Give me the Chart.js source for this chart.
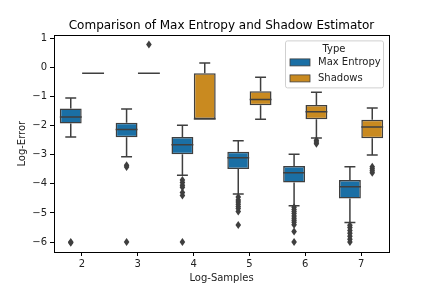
<!DOCTYPE html>
<html>
<head>
<meta charset="utf-8">
<script src="https://cdn.jsdelivr.net/npm/chart.js@4"></script>
<style>
  html, body { margin: 0; padding: 0; background: #fff; }
  #wrap { width: 432px; height: 288px; }
</style>
</head>
<body>
<div id="wrap"><canvas id="myChart" width="432" height="288"></canvas></div>
<script>
// Log-Samples categories
var categories = ['2', '3', '4', '5', '6', '7'];
var seriesNames = ['Max Entropy', 'Shadows'];
var yTicks = [1, 0, -1, -2, -3, -4, -5, -6];

// Max Entropy box stats
var meLow = [-2.39, -3.07, -3.70, -4.35, -4.75, -5.33];
var meQ1 = [-1.93, -2.40, -2.98, -3.49, -3.95, -4.50];
var meMed = [-1.70, -2.13, -2.66, -3.10, -3.62, -4.10];
var meQ3 = [-1.41, -1.90, -2.39, -2.90, -3.39, -3.87];
var meHigh = [-1.05, -1.43, -1.99, -2.52, -2.98, -3.41];
var meOut = [
  [-6.0, -6.02],
  [-3.36, -3.42, -6.0],
  [-3.87, -3.95, -4.05, -4.12, -4.3, -4.4, -6.0],
  [-4.45, -4.55, -4.62, -4.7, -4.78, -4.85, -4.95, -5.41],
  [-4.8, -4.88, -4.95, -5.02, -5.1, -5.18, -5.25, -5.32, -5.4, -5.64, -6.0],
  [-5.42, -5.5, -5.6, -5.7, -5.8, -5.9, -6.0]
];

// Shadows box stats
var shLow = [-0.2, -0.2, -1.77, -1.78, -2.42, -3.01];
var shQ1 = [-0.2, -0.2, -1.77, -1.30, -1.78, -2.43];
var shMed = [-0.2, -0.2, -1.77, -1.10, -1.52, -2.05];
var shQ3 = [-0.2, -0.2, -0.2, -0.82, -1.29, -1.80];
var shHigh = [-0.2, -0.2, 0.15, -0.34, -0.85, -1.39];
var shOut = [
  [],
  [0.79],
  [],
  [],
  [-2.5, -2.56, -2.62],
  [-3.41, -3.48, -3.55, -3.62]
];

var colors = ['#1a6fa5', '#c98a20'];
var lineColor = '#3f3f3f';
var font = 'DejaVu Sans';

function pairs(lo, hi) {
  return lo.map(function (v, i) { return [v, hi[i]]; });
}

var stats = [
  { low: meLow, med: meMed, high: meHigh, q1: meQ1, q3: meQ3, out: meOut },
  { low: shLow, med: shMed, high: shHigh, q1: shQ1, q3: shQ3, out: shOut }
];

var boxPlugin = {
  id: 'boxExtras',
  afterDatasetsDraw: function (chart) {
    var ctx = chart.ctx;
    var y = chart.scales.y;
    ctx.save();
    ctx.strokeStyle = lineColor;
    ctx.fillStyle = lineColor;
    ctx.lineWidth = 1.5;
    stats.forEach(function (s, di) {
      var meta = chart.getDatasetMeta(di);
      meta.data.forEach(function (bar, i) {
        var cx = bar.x, w = bar.width;
        var capW = w / 4;
        // whiskers
        ctx.beginPath();
        ctx.moveTo(cx, y.getPixelForValue(s.q3[i]));
        ctx.lineTo(cx, y.getPixelForValue(s.high[i]));
        ctx.moveTo(cx, y.getPixelForValue(s.q1[i]));
        ctx.lineTo(cx, y.getPixelForValue(s.low[i]));
        // caps
        ctx.moveTo(cx - capW, y.getPixelForValue(s.high[i]));
        ctx.lineTo(cx + capW, y.getPixelForValue(s.high[i]));
        ctx.moveTo(cx - capW, y.getPixelForValue(s.low[i]));
        ctx.lineTo(cx + capW, y.getPixelForValue(s.low[i]));
        // median
        ctx.moveTo(cx - w / 2, y.getPixelForValue(s.med[i]));
        ctx.lineTo(cx + w / 2, y.getPixelForValue(s.med[i]));
        ctx.stroke();
        // outliers (diamonds)
        s.out[i].forEach(function (v) {
          var py = y.getPixelForValue(v);
          ctx.beginPath();
          ctx.moveTo(cx, py - 4);
          ctx.lineTo(cx + 2.8, py);
          ctx.lineTo(cx, py + 4);
          ctx.lineTo(cx - 2.8, py);
          ctx.closePath();
          ctx.fill();
        });
      });
    });
    ctx.restore();
  },
  afterDraw: function (chart) {
    var ctx = chart.ctx;
    var a = chart.chartArea;
    ctx.save();
    // frame
    ctx.strokeStyle = '#000';
    ctx.lineWidth = 1;
    ctx.strokeRect(Math.round(a.left) + 0.5, Math.round(a.top) + 0.5,
      Math.round(a.right - a.left), Math.round(a.bottom - a.top));
    // legend
    var lx = a.right - 104, ly = a.top + 5, lw = 98, lh = 47;
    ctx.fillStyle = 'rgba(255,255,255,0.8)';
    ctx.strokeStyle = '#d0d0d0';
    ctx.beginPath();
    ctx.roundRect(lx + 0.5, ly + 0.5, lw, lh, 2);
    ctx.fill();
    ctx.stroke();
    ctx.fillStyle = '#222';
    ctx.font = '10px "' + font + '"';
    ctx.textBaseline = 'middle';
    ctx.textAlign = 'center';
    ctx.fillText('Type', lx + lw / 2, ly + 9);
    ctx.textAlign = 'left';
    seriesNames.forEach(function (name, i) {
      var ry = ly + 22 + i * 16;
      ctx.fillStyle = colors[i];
      ctx.fillRect(lx + 5, ry - 3.5, 20, 7);
      ctx.strokeStyle = lineColor;
      ctx.lineWidth = 0.8;
      ctx.strokeRect(lx + 5, ry - 3.5, 20, 7);
      ctx.fillStyle = '#222';
      ctx.fillText(name, lx + 33, ry);
    });
    ctx.restore();
  }
};

var ctx = document.getElementById('myChart').getContext('2d');
var chart = new Chart(ctx, {
  type: 'bar',
  data: {
    labels: categories,
    datasets: [{
      label: seriesNames[0],
      data: pairs(meQ1, meQ3),
      backgroundColor: colors[0],
      borderColor: lineColor,
      borderWidth: 1.5,
      borderSkipped: false
    }, {
      label: seriesNames[1],
      data: pairs(shQ1, shQ3),
      backgroundColor: colors[1],
      borderColor: lineColor,
      borderWidth: 1.5,
      borderSkipped: false
    }]
  },
  options: {
    responsive: false,
    animation: false,
    layout: { padding: { left: 11, right: 0, top: 0, bottom: 0 } },
    datasets: { bar: { categoryPercentage: 0.8, barPercentage: 0.98 } },
    plugins: {
      legend: { display: false },
      tooltip: { enabled: false },
      title: {
        display: true,
        text: 'Comparison of Max Entropy and Shadow Estimator',
        color: '#000',
        font: { family: font, size: 12, weight: 'normal' },
        padding: { top: 19, bottom: 2 }
      }
    },
    scales: {
      x: {
        type: 'category',
        offset: true,
        grid: { display: true, drawOnChartArea: false, offset: false, tickLength: 4, color: '#000' },
        border: { display: true, color: '#000' },
        ticks: { color: '#222', font: { family: font, size: 10 }, padding: 2, maxRotation: 0 },
        title: { display: true, text: 'Log-Samples', color: '#222', font: { family: font, size: 10 }, padding: { top: 2, bottom: 4 } },
        afterFit: function (scale) { scale.height = 36; }
      },
      y: {
        min: -6.34,
        max: 1.1,
        grid: { display: true, drawOnChartArea: false, tickLength: 4, color: '#000' },
        border: { display: true, color: '#000' },
        afterBuildTicks: function (scale) {
          scale.ticks = yTicks.map(function (v) { return { value: v }; });
        },
        ticks: {
          color: '#222',
          font: { family: font, size: 10 },
          padding: 3,
          callback: function (v) { return v < 0 ? '\u2212' + Math.abs(v) : String(v); }
        },
        title: { display: true, text: 'Log-Error', color: '#222', font: { family: font, size: 10 }, padding: { top: 5, bottom: 4 } },
        afterFit: function (scale) { scale.width = 43; }
      },
      yr: {
        position: 'right',
        display: true,
        grid: { display: false },
        border: { display: false },
        ticks: { display: false },
        afterFit: function (scale) { scale.width = 43; }
      }
    }
  },
  plugins: [boxPlugin]
});
</script>
</body>
</html>
